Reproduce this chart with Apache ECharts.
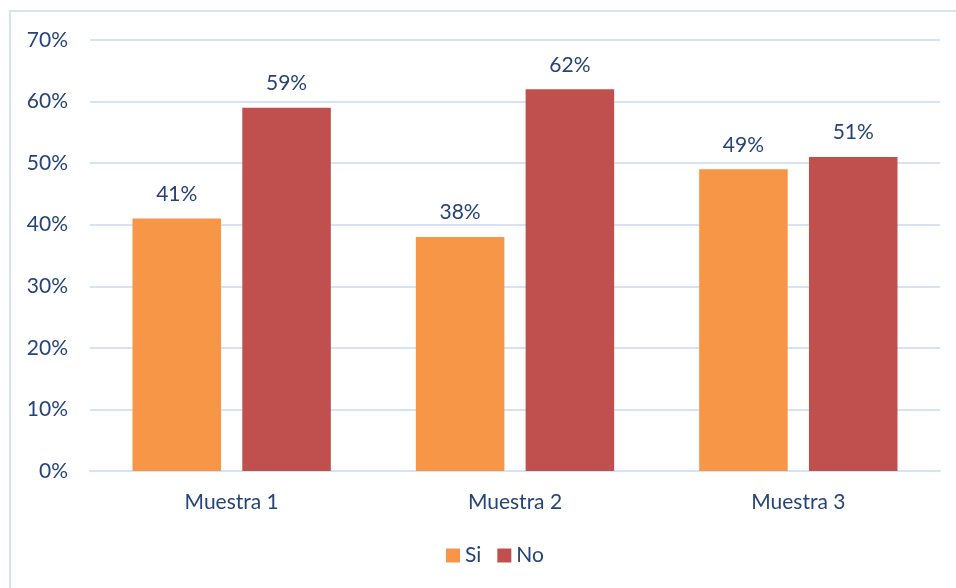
<!DOCTYPE html>
<html>
<head>
<meta charset="utf-8">
<script src="https://cdn.jsdelivr.net/npm/echarts@6/dist/echarts.min.js"></script>
<style>
  html, body { margin: 0; padding: 0; background: #ffffff; }
  #chart { width: 956px; height: 588px; }
</style>
</head>
<body>
<div id="chart"></div>
<script>
const categories = ['Muestra 1', 'Muestra 2', 'Muestra 3'];
const siValues = [41, 38, 49];
const noValues = [59, 62, 51];
const yTicks = [0, 10, 20, 30, 40, 50, 60, 70];

const textColor = '#264478';
const fontFamily = 'Lato, "Open Sans", sans-serif';
const fontSize = 21;

const chart = echarts.init(document.getElementById('chart'), null, { renderer: 'canvas' });

const valueLabel = {
  show: true,
  position: 'top',
  distance: 14,
  color: textColor,
  fontSize: fontSize,
  fontFamily: fontFamily,
  formatter: p => p.value + '%'
};

chart.setOption({
  backgroundColor: '#ffffff',
  animation: false,
  graphic: [{
    type: 'rect',
    shape: { x: 10, y: 11, width: 980, height: 620 },
    style: { fill: 'none', stroke: '#D6E3F4', lineWidth: 2 },
    silent: true
  }],
  grid: { left: 90, right: 16, top: 40, bottom: 117, containLabel: false },
  legend: {
    bottom: 17,
    left: 441,
    itemWidth: 14,
    itemHeight: 14,
    itemGap: 16,
    icon: 'rect',
    textStyle: { color: textColor, fontSize: fontSize, fontFamily: fontFamily, padding: [0, 0, 0, 0] },
    data: ['Si', 'No']
  },
  xAxis: {
    type: 'category',
    data: categories,
    axisLine: { lineStyle: { color: '#D6E3F4', width: 2 } },
    axisTick: { show: false },
    axisLabel: { color: textColor, fontSize: fontSize, fontFamily: fontFamily, margin: 21 }
  },
  yAxis: {
    type: 'value',
    min: yTicks[0],
    max: yTicks[yTicks.length - 1],
    interval: 10,
    axisLine: { show: false },
    axisTick: { show: false },
    axisLabel: { color: textColor, fontSize: fontSize, fontFamily: fontFamily, margin: 22, formatter: v => v + '%' },
    splitLine: { lineStyle: { color: '#D6E3F4', width: 2 } }
  },
  series: [
    {
      name: 'Si',
      type: 'bar',
      data: siValues,
      barGap: '24%',
      barCategoryGap: '30%',
      itemStyle: { color: '#F79646' },
      label: valueLabel
    },
    {
      name: 'No',
      type: 'bar',
      data: noValues,
      itemStyle: { color: '#C0504D' },
      label: valueLabel
    }
  ]
});
</script>
</body>
</html>
